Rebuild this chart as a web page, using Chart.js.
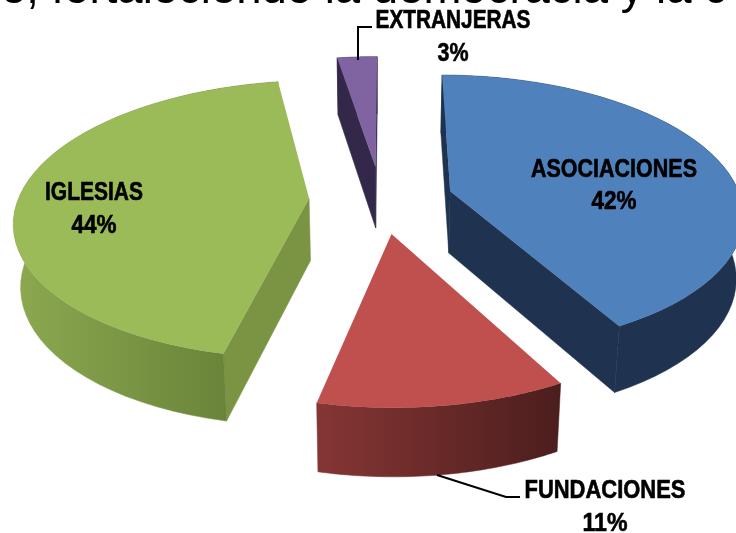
<!DOCTYPE html>
<html><head><meta charset="utf-8">
<style>html,body{margin:0;padding:0;background:#fff;overflow:hidden}canvas{display:block}</style>
<script src="https://cdn.jsdelivr.net/npm/chart.js@4"></script></head>
<body><canvas id="c" width="736" height="533"></canvas>
<script>
const categories = ['ASOCIACIONES','FUNDACIONES','IGLESIAS','EXTRANJERAS'];
const shares = [42,11.4,44,2.6];
const sliceColors = ['#4F81BD','#C0504D','#9BBB59','#8064A2'];
const wallColors = ['#1F3350','#7F3331','#7A9444','#33274A'];
const rimFrom = ['#1F3350','#853634','#8CA950','#33274A'];
const rimTo = ['#1F3350','#4B1E1D','#627A34','#33274A'];
const headline = 'e, fortaleciendo la democracia y la c';

// view of the tilted pie
const view = {rx:291, ry:136, persp:0.15, depth:62, converge:0.02, steps:48};

function project(cx,cy,ux,vy,z){
  const w = 1/(1 - view.persp*vy);
  const x = ux*view.rx*w, y = vy*view.ry*w;
  const shrink = 1 - view.converge*z;
  return [cx + x*shrink, cy + y + z*view.depth*(1+(w-1)*0.5)];
}
const pie3d = {
  id:'pie3d',
  beforeDatasetDraw(chart){
    const ctx = chart.ctx;
    const arcs = chart.getDatasetMeta(0).data;
    arcs.forEach((el,i)=>{
      const R = el.outerRadius, mid=(el.startAngle+el.endAngle)/2;
      const ex = el.options.offset/R;
      const ax = Math.cos(mid)*ex, ay = Math.sin(mid)*ex;
      const P = (a,r,z)=>project(el.x,el.y, ax+r*Math.cos(a), ay+r*Math.sin(a), z);
      const poly = pts=>{ctx.beginPath();pts.forEach((p,k)=>k?ctx.lineTo(p[0],p[1]):ctx.moveTo(p[0],p[1]));ctx.closePath();};
      const area = pts=>{let s=0;pts.forEach((p,k)=>{const q=pts[(k+1)%pts.length];s+=p[0]*q[1]-q[0]*p[1];});return s;};
      const angs=[];for(let k=0;k<=view.steps;k++)angs.push(el.startAngle+(el.endAngle-el.startAngle)*k/view.steps);
      [[el.startAngle,-1],[el.endAngle,1]].forEach(([a,sgn])=>{
        const q=[P(a,0,0),P(a,1,0),P(a,1,1),P(a,0,1)];
        if(area(q)*sgn>0){poly(q);ctx.fillStyle=wallColors[i];ctx.fill();ctx.strokeStyle=wallColors[i];ctx.lineWidth=.5;ctx.stroke();}
      });
      const rim=[];angs.forEach(a=>rim.push(P(a,1,0)));angs.slice().reverse().forEach(a=>rim.push(P(a,1,1)));
      const xs=rim.map(p=>p[0]);
      const g=ctx.createLinearGradient(Math.min(...xs),0,Math.max(...xs),0);
      g.addColorStop(0,rimFrom[i]);g.addColorStop(1,rimTo[i]);
      poly(rim);ctx.fillStyle=g;ctx.fill();ctx.strokeStyle=g;ctx.lineWidth=.5;ctx.stroke();
      const top=[P(el.startAngle,0,0)];angs.forEach(a=>top.push(P(a,1,0)));
      poly(top);ctx.fillStyle=el.options.backgroundColor;ctx.fill();
    });
    return false;
  },
  afterDatasetsDraw(chart){
    const ctx=chart.ctx;
    ctx.save();
    ctx.fillStyle='#000';ctx.textBaseline='alphabetic';ctx.textAlign='left';
    ctx.font='45.5px "Liberation Sans"';
    ctx.fillText(headline,1,3);
    ctx.strokeStyle='#000';ctx.lineWidth=2;
    ctx.beginPath();ctx.moveTo(358,60);ctx.lineTo(358,27);ctx.lineTo(372,27);ctx.stroke();
    ctx.beginPath();ctx.moveTo(437,475);ctx.lineTo(506,497);ctx.lineTo(520,497);ctx.stroke();
    ctx.font='bold 25px "Liberation Sans"';ctx.textAlign='center';ctx.lineWidth=.6;
    const lab=[[614,177],[605,498],[94,200],[453,28]];
    const lab2=[[614,209],[605,531],[94,233],[453,61]];
    const nameW=[166,161,98,155];
    const pctW=[45,45,45,31];
    categories.forEach((c,i)=>{
      const pct=Math.round(shares[i])+'%';
      ctx.fillText(c,lab[i][0],lab[i][1],nameW[i]);
      ctx.strokeText(c,lab[i][0],lab[i][1],nameW[i]);
      ctx.fillText(pct,lab2[i][0],lab2[i][1],pctW[i]);
      ctx.strokeText(pct,lab2[i][0],lab2[i][1],pctW[i]);
    });
    ctx.restore();
  }
};
new Chart(document.getElementById('c'),{
  type:'pie',
  data:{labels:categories,datasets:[{data:shares,backgroundColor:sliceColors,offset:73,borderWidth:0}]},
  options:{responsive:false,animation:false,rotation:0.2,radius:295,
    layout:{padding:{left:26,bottom:134}},
    plugins:{legend:{display:false},tooltip:{enabled:false},title:{display:false}}},
  plugins:[pie3d]
});
</script></body></html>
